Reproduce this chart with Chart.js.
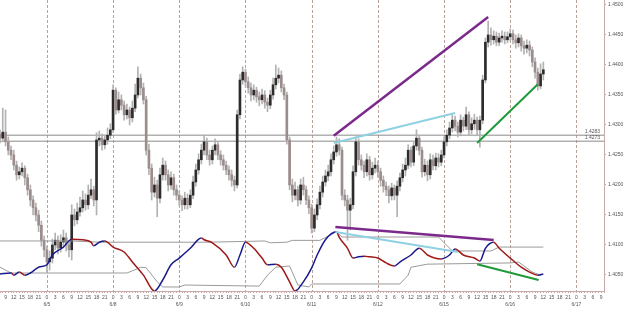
<!DOCTYPE html>
<html>
<head>
<meta charset="utf-8">
<script src="https://cdn.jsdelivr.net/npm/chart.js@4.4.0/dist/chart.umd.min.js"></script>
<style>
  html, body { margin: 0; padding: 0; background: #fff; }
  #grafico { display: block; }
</style>
</head>
<body>
<canvas id="grafico" width="625" height="314"></canvas>
<script>
// barras de 1 hora, indice 0 = 07:00 do primeiro dia
const firstHour = 7;
const lastSlot = 219;
const dayLabels = ['6/5', '6/8', '6/9', '6/10', '6/11', '6/12', '6/15', '6/16', '6/17'];
const priceTicks = [1.4050, 1.4100, 1.4150, 1.4200, 1.4250, 1.4300, 1.4350, 1.4400, 1.4450, 1.4500];
const levels = [1.4283, 1.4273];

const opens = [
  1.4285,1.4278,1.4288,1.4272,1.4258,1.4250,1.4233,1.4217,1.4222,1.4228,
  1.4212,1.4192,1.4175,1.4162,1.4150,1.4133,1.4108,1.4092,1.4072,1.4078,
  1.4100,1.4108,1.4095,1.4105,1.4112,1.4100,1.4092,1.4150,1.4142,1.4155,
  1.4162,1.4175,1.4167,1.4183,1.4192,1.4175,1.4275,1.4278,1.4267,1.4275,
  1.4283,1.4292,1.4358,1.4325,1.4342,1.4333,1.4317,1.4325,1.4312,1.4328,
  1.4350,1.4378,1.4362,1.4342,1.4258,1.4228,1.4188,1.4200,1.4178,1.4217,
  1.4233,1.4217,1.4200,1.4212,1.4192,1.4183,1.4175,1.4167,1.4178,1.4167,
  1.4183,1.4205,1.4225,1.4242,1.4258,1.4272,1.4250,1.4242,1.4258,1.4267,
  1.4250,1.4242,1.4233,1.4225,1.4217,1.4208,1.4200,1.4317,1.4375,1.4388,
  1.4372,1.4362,1.4350,1.4358,1.4347,1.4342,1.4350,1.4338,1.4333,1.4350,
  1.4367,1.4378,1.4383,1.4362,1.4350,1.4275,1.4200,1.4183,1.4192,1.4175,
  1.4200,1.4192,1.4175,1.4162,1.4128,1.4150,1.4167,1.4188,1.4205,1.4215,
  1.4222,1.4242,1.4255,1.4267,1.4258,1.4183,1.4175,1.4158,1.4167,1.4222,
  1.4272,1.4242,1.4233,1.4222,1.4242,1.4217,1.4228,1.4233,1.4222,1.4208,
  1.4198,1.4192,1.4182,1.4195,1.4183,1.4198,1.4212,1.4225,1.4233,1.4258,
  1.4238,1.4265,1.4278,1.4258,1.4222,1.4233,1.4217,1.4242,1.4232,1.4245,
  1.4238,1.4250,1.4272,1.4283,1.4295,1.4308,1.4298,1.4288,1.4308,1.4298,
  1.4317,1.4292,1.4302,1.4308,1.4292,1.4308,1.4375,1.4438,1.4450,1.4442,
  1.4448,1.4438,1.4445,1.4448,1.4442,1.4447,1.4452,1.4442,1.4437,1.4445,
  1.4432,1.4428,1.4433,1.4425,1.4405,1.4388,1.4365,1.4385
];
const highs = [
  1.4292,1.4328,1.4325,1.4280,1.4265,1.4258,1.4240,1.4230,1.4237,1.4232,
  1.4218,1.4200,1.4182,1.4170,1.4158,1.4140,1.4115,1.4098,1.4090,1.4110,
  1.4120,1.4115,1.4117,1.4125,1.4120,1.4107,1.4167,1.4160,1.4170,1.4180,
  1.4190,1.4185,1.4200,1.4210,1.4198,1.4287,1.4290,1.4285,1.4283,1.4295,
  1.4302,1.4367,1.4362,1.4355,1.4350,1.4340,1.4335,1.4330,1.4340,1.4368,
  1.4397,1.4385,1.4370,1.4348,1.4268,1.4235,1.4213,1.4208,1.4228,1.4245,
  1.4240,1.4225,1.4222,1.4218,1.4200,1.4190,1.4182,1.4188,1.4185,1.4192,
  1.4215,1.4235,1.4252,1.4268,1.4283,1.4278,1.4258,1.4265,1.4277,1.4272,
  1.4257,1.4250,1.4240,1.4232,1.4225,1.4215,1.4325,1.4385,1.4397,1.4393,
  1.4380,1.4370,1.4367,1.4363,1.4355,1.4360,1.4357,1.4345,1.4358,1.4378,
  1.4400,1.4395,1.4390,1.4368,1.4355,1.4280,1.4210,1.4205,1.4198,1.4210,
  1.4213,1.4198,1.4182,1.4168,1.4160,1.4177,1.4198,1.4215,1.4225,1.4233,
  1.4252,1.4265,1.4280,1.4277,1.4263,1.4192,1.4183,1.4178,1.4232,1.4280,
  1.4277,1.4250,1.4240,1.4252,1.4248,1.4238,1.4245,1.4240,1.4228,1.4215,
  1.4205,1.4198,1.4203,1.4200,1.4207,1.4220,1.4235,1.4245,1.4267,1.4263,
  1.4273,1.4292,1.4283,1.4263,1.4243,1.4240,1.4252,1.4250,1.4253,1.4252,
  1.4258,1.4280,1.4292,1.4305,1.4318,1.4315,1.4305,1.4317,1.4313,1.4330,
  1.4322,1.4312,1.4318,1.4313,1.4315,1.4383,1.4445,1.4473,1.4462,1.4457,
  1.4455,1.4453,1.4457,1.4455,1.4455,1.4460,1.4458,1.4450,1.4452,1.4450,
  1.4440,1.4442,1.4440,1.4430,1.4412,1.4395,1.4402,1.4405
];
const lows = [
  1.4270,1.4272,1.4265,1.4250,1.4242,1.4225,1.4208,1.4210,1.4215,1.4200,
  1.4183,1.4165,1.4150,1.4140,1.4122,1.4098,1.4080,1.4055,1.4058,1.4070,
  1.4092,1.4085,1.4088,1.4098,1.4090,1.4080,1.4075,1.4132,1.4135,1.4148,
  1.4155,1.4158,1.4160,1.4177,1.4165,1.4150,1.4265,1.4258,1.4260,1.4268,
  1.4277,1.4288,1.4318,1.4320,1.4325,1.4308,1.4310,1.4300,1.4305,1.4322,
  1.4345,1.4350,1.4335,1.4250,1.4217,1.4175,1.4180,1.4147,1.4170,1.4208,
  1.4208,1.4190,1.4193,1.4183,1.4175,1.4165,1.4157,1.4160,1.4160,1.4162,
  1.4177,1.4198,1.4218,1.4235,1.4250,1.4242,1.4233,1.4235,1.4250,1.4242,
  1.4233,1.4225,1.4217,1.4208,1.4198,1.4190,1.4195,1.4310,1.4368,1.4363,
  1.4353,1.4340,1.4342,1.4338,1.4332,1.4335,1.4328,1.4322,1.4327,1.4343,
  1.4360,1.4370,1.4355,1.4342,1.4268,1.4192,1.4172,1.4175,1.4165,1.4168,
  1.4183,1.4167,1.4152,1.4120,1.4122,1.4142,1.4160,1.4180,1.4198,1.4207,
  1.4215,1.4235,1.4248,1.4250,1.4175,1.4165,1.4108,1.4125,1.4160,1.4215,
  1.4233,1.4225,1.4212,1.4215,1.4208,1.4210,1.4220,1.4213,1.4198,1.4188,
  1.4182,1.4170,1.4175,1.4175,1.4147,1.4190,1.4205,1.4215,1.4227,1.4230,
  1.4232,1.4258,1.4250,1.4213,1.4215,1.4207,1.4210,1.4225,1.4225,1.4230,
  1.4232,1.4245,1.4265,1.4277,1.4288,1.4290,1.4280,1.4282,1.4290,1.4292,
  1.4283,1.4285,1.4293,1.4283,1.4263,1.4302,1.4370,1.4430,1.4433,1.4435,
  1.4432,1.4432,1.4438,1.4435,1.4437,1.4440,1.4435,1.4428,1.4430,1.4423,
  1.4418,1.4420,1.4415,1.4397,1.4378,1.4358,1.4360,1.4375
];
const closes = [
  1.4278,1.4288,1.4272,1.4258,1.4250,1.4233,1.4217,1.4222,1.4228,1.4212,
  1.4192,1.4175,1.4162,1.4150,1.4133,1.4108,1.4092,1.4072,1.4078,1.4100,
  1.4108,1.4095,1.4105,1.4112,1.4100,1.4092,1.4150,1.4142,1.4155,1.4162,
  1.4175,1.4167,1.4183,1.4192,1.4175,1.4275,1.4278,1.4267,1.4275,1.4283,
  1.4292,1.4358,1.4325,1.4342,1.4333,1.4317,1.4325,1.4312,1.4328,1.4350,
  1.4378,1.4362,1.4342,1.4258,1.4228,1.4188,1.4200,1.4178,1.4217,1.4233,
  1.4217,1.4200,1.4212,1.4192,1.4183,1.4175,1.4167,1.4178,1.4167,1.4183,
  1.4205,1.4225,1.4242,1.4258,1.4272,1.4250,1.4242,1.4258,1.4267,1.4250,
  1.4242,1.4233,1.4225,1.4217,1.4208,1.4200,1.4317,1.4375,1.4388,1.4372,
  1.4362,1.4350,1.4358,1.4347,1.4342,1.4350,1.4338,1.4333,1.4350,1.4367,
  1.4378,1.4383,1.4362,1.4350,1.4275,1.4200,1.4183,1.4192,1.4175,1.4200,
  1.4192,1.4175,1.4162,1.4128,1.4150,1.4167,1.4188,1.4205,1.4215,1.4222,
  1.4242,1.4255,1.4267,1.4258,1.4183,1.4175,1.4158,1.4167,1.4222,1.4272,
  1.4242,1.4233,1.4222,1.4242,1.4217,1.4228,1.4233,1.4222,1.4208,1.4198,
  1.4192,1.4182,1.4195,1.4183,1.4198,1.4212,1.4225,1.4233,1.4258,1.4238,
  1.4265,1.4278,1.4258,1.4222,1.4233,1.4217,1.4242,1.4232,1.4245,1.4238,
  1.4250,1.4272,1.4283,1.4295,1.4308,1.4298,1.4288,1.4308,1.4298,1.4317,
  1.4292,1.4302,1.4308,1.4292,1.4308,1.4375,1.4438,1.4450,1.4442,1.4448,
  1.4438,1.4445,1.4448,1.4442,1.4447,1.4452,1.4442,1.4437,1.4445,1.4432,
  1.4428,1.4433,1.4425,1.4405,1.4388,1.4365,1.4385,1.4392
];

const oscIdx = [0,4,5,7,9,11,14,17,19,23,26,30,33,34,36,38,41,45,48,52,56,59,62,65,69,73,74,77,82,85,87,89,92,95,97,100,102,105,107,110,113,115,118,122,123,126,128,130,132,134,137,140,143,145,149,152,155,160,163,165,168,172,174,176,179,181,185,189,192,195,197];
const oscVal = [28,29.5,26,31,26,29.5,39,43,59,72,85,84,80,74,80,82,72,64,47.5,26,0,18,43,54,70,87,84,79,59,39,59,80,70,54,43,44,39,15,0,15,38,59,84,97,88,70,54,56,57,56,54,46,41,47.5,59,70,59,52.5,59,69,59,54,49,70,80,70,54,39,31,26,28];
const upperIdx = [0,26,36,76,96,98,104,106,116,122,124,159,164,178,181,197];
const upperVal = [82,82,80,80,82,79,80,83,83,97,88.5,88.5,65.6,65.6,72,72];
const lowerIdx = [0,4,46,48,51,53,57,59,65,67,94,97,100,105,108,112,113,145,148,149,155,185,188,193,196];
const lowerVal = [39,29.5,29.5,33,39,38,15,6.6,6.6,9.8,8,26,39,41,9.8,6.6,11.5,11.5,26,39,44,46,47.5,31,26];

// linhas de tendencia: [inicio, fim]
const purplePriceX = [121, 177];
const purplePriceY = [1.4282, 1.4480];
const bluePriceX = [121, 165];
const bluePriceY = [1.4270, 1.4320];
const greenPriceX = [173, 195];
const greenPriceY = [1.4270, 1.4368];
const purpleOscX = [121.6, 179];
const purpleOscY = [105, 83.6];
const blueOscX = [121.6, 166];
const blueOscY = [96.7, 64];
const greenOscX = [173, 195.3];
const greenOscY = [44, 18];

const corAlta = '#2c2c2c';
const corBaixa = '#9c8c8c';
const corPavio = '#b2b2b2';
const corEixo = '#c9a9a9';

function pontos(xs, ys) {
    return xs.map((x, i) => ({ x: x, y: ys[i] }));
}

function rotuloHora(value) {
    const hora = (firstHour + value) % 24;
    if (hora % 3 !== 0) return '';
    if (hora === 0) {
        const d = Math.round((value - (24 - firstHour)) / 24);
        return ['0', dayLabels[d] || ''];
    }
    return String(hora);
}

function linhaTendencia(xs, ys, cor, eixo, largura) {
    return {
        type: 'line', data: pontos(xs, ys), yAxisID: eixo, order: 0,
        borderColor: cor, borderWidth: largura, pointRadius: 0, tension: 0
    };
}

// linhas tracejadas de cada dia e rotulos dos niveis
const pluginDias = {
    id: 'pluginDias',
    beforeDatasetsDraw(chart) {
        const ctx = chart.ctx;
        const xs = chart.scales.x;
        const area = chart.chartArea;
        ctx.save();
        ctx.strokeStyle = '#b9a29a';
        ctx.lineWidth = 1;
        ctx.setLineDash([3, 2]);
        dayLabels.forEach((d, k) => {
            const px = Math.round(xs.getPixelForValue(24 - firstHour + k * 24)) + 0.5;
            ctx.beginPath();
            ctx.moveTo(px, area.top);
            ctx.lineTo(px, area.bottom);
            ctx.stroke();
        });
        ctx.restore();
    },
    afterDatasetsDraw(chart) {
        const ctx = chart.ctx;
        const ys = chart.scales.y;
        const area = chart.chartArea;
        ctx.save();
        ctx.font = '5px "Liberation Sans", Arial, sans-serif';
        ctx.fillStyle = '#555';
        ctx.textAlign = 'right';
        ctx.textBaseline = 'bottom';
        levels.forEach(v => {
            ctx.fillText(v.toFixed(4), area.right - 4, ys.getPixelForValue(v) - 1);
        });
        ctx.restore();
    }
};

function desenharGrafico() {
    const ctx = document.getElementById('grafico').getContext('2d');
    Chart.defaults.font.family = '"Liberation Sans", Arial, sans-serif';

    const datasets = [
        linhaTendencia(purplePriceX, purplePriceY, '#7b2a8c', 'y', 2.5),
        linhaTendencia(bluePriceX, bluePriceY, '#8fd0e2', 'y', 2),
        linhaTendencia(greenPriceX, greenPriceY, '#1f9a3a', 'y', 2),
        linhaTendencia(purpleOscX, purpleOscY, '#7b2a8c', 'osc', 2.5),
        linhaTendencia(blueOscX, blueOscY, '#8fd0e2', 'osc', 2),
        linhaTendencia(greenOscX, greenOscY, '#1f9a3a', 'osc', 2),
        {
            type: 'line', data: pontos(oscIdx, oscVal), yAxisID: 'osc', order: 1,
            borderWidth: 1.5, pointRadius: 0, cubicInterpolationMode: 'monotone',
            borderColor: '#1a1a8c',
            segment: {
                borderColor: c => c.p1.parsed.y >= c.p0.parsed.y ? '#1a1a8c' : '#a01818'
            }
        },
        {
            type: 'line', data: pontos(upperIdx, upperVal), yAxisID: 'osc', order: 2,
            borderColor: '#9a9a9a', borderWidth: 1, pointRadius: 0, tension: 0
        },
        {
            type: 'line', data: pontos(lowerIdx, lowerVal), yAxisID: 'osc', order: 2,
            borderColor: '#9a9a9a', borderWidth: 1, pointRadius: 0, tension: 0
        },
        {
            type: 'bar', yAxisID: 'y', order: 3, grouped: false,
            data: closes.map((c, i) => ({ x: i, y: [opens[i], c] })),
            backgroundColor: c => closes[c.dataIndex] >= opens[c.dataIndex] ? corAlta : corBaixa,
            barThickness: 2, minBarLength: 1
        },
        {
            type: 'bar', yAxisID: 'y', order: 4, grouped: false,
            data: lows.map((l, i) => ({ x: i, y: [l, highs[i]] })),
            backgroundColor: corPavio,
            barThickness: 1
        },
        {
            type: 'line', yAxisID: 'y', order: 5,
            data: [{ x: 0, y: levels[0] }, { x: lastSlot, y: levels[0] }],
            borderColor: '#8a8a8a', borderWidth: 1, pointRadius: 0
        },
        {
            type: 'line', yAxisID: 'y', order: 5,
            data: [{ x: 0, y: levels[1] }, { x: lastSlot, y: levels[1] }],
            borderColor: '#8a8a8a', borderWidth: 1, pointRadius: 0
        }
    ];

    new Chart(ctx, {
        type: 'bar',
        data: { datasets: datasets },
        options: {
            responsive: false,
            animation: false,
            devicePixelRatio: 1,
            layout: { padding: 0 },
            plugins: { legend: { display: false }, tooltip: { enabled: false } },
            scales: {
                x: {
                    type: 'linear', min: 0, max: lastSlot, offset: false,
                    afterBuildTicks: s => {
                        const t = [];
                        for (let i = 0; i <= lastSlot; i++) t.push({ value: i });
                        s.ticks = t;
                    },
                    afterFit: s => { s.height = 23; s.paddingLeft = 0; s.paddingRight = 0; },
                    grid: { display: true, drawOnChartArea: false, offset: false, tickLength: 2, tickColor: corEixo },
                    border: { color: corEixo },
                    ticks: {
                        autoSkip: false, maxRotation: 0, padding: 1, color: '#555',
                        font: { size: 5, lineHeight: 1.4 },
                        callback: rotuloHora
                    }
                },
                y: {
                    position: 'right', min: 1.40233, max: 1.45083,
                    afterBuildTicks: s => { s.ticks = priceTicks.map(v => ({ value: v })); },
                    afterFit: s => { s.width = 21; s.paddingTop = 0; s.paddingBottom = 0; },
                    grid: { drawOnChartArea: false, tickLength: 2, tickColor: corEixo },
                    border: { color: corEixo },
                    ticks: {
                        padding: 2, color: '#555', font: { size: 5 },
                        callback: v => v.toFixed(4)
                    }
                },
                osc: { display: false, min: 0, max: 477 }
            }
        },
        plugins: [pluginDias]
    });
}

desenharGrafico();
</script>
</body>
</html>
